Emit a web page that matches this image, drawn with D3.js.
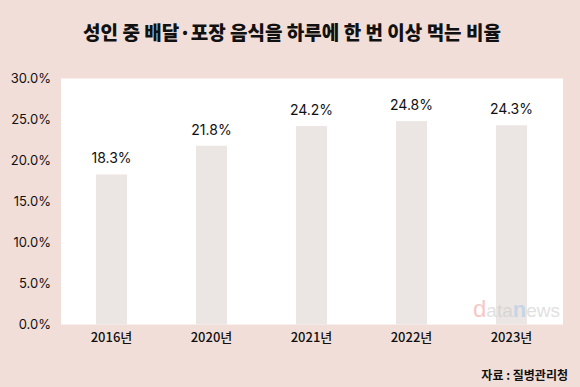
<!DOCTYPE html>
<html>
<head>
<meta charset="utf-8">
<script src="https://cdn.jsdelivr.net/npm/d3@7"></script>
<style>
  body { margin: 0; background: #f2ded8; }
  svg { display: block; }
</style>
</head>
<body>
<div id="chart"></div>
<script>
var years = ["2016년", "2020년", "2021년", "2022년", "2023년"];
var values = [18.3, 21.8, 24.2, 24.8, 24.3];
var yTicks = [0, 5, 10, 15, 20, 25, 30];

var w = 580,
    h = 387;
var font = "'Noto Sans CJK KR', 'Noto Sans', sans-serif";
var numFont = "Inter, 'Noto Sans CJK KR', sans-serif";

var svg = d3.select("#chart")
  .append("svg")
  .attr("width", w)
  .attr("height", h);

svg.append("rect")
  .attr("width", w)
  .attr("height", h)
  .attr("fill", "#f2ded8");

var x = d3.scaleBand()
  .domain(years)
  .range([61.5, 561.5])
  .paddingInner(0.69)
  .paddingOuter(0.345);

var y = d3.scaleLinear()
  .domain([0, 30])
  .range([324.5, 78.5]);

// plot background
svg.append("rect")
  .attr("x", 61)
  .attr("y", y(30))
  .attr("width", 502)
  .attr("height", y(0) - y(30))
  .attr("fill", "#ffffff");

// title
svg.append("text")
  .attr("x", 292)
  .attr("y", 40)
  .attr("text-anchor", "middle")
  .attr("font-family", font)
  .attr("font-size", "19px")
  .attr("font-weight", "900")
  .attr("fill", "#111")
  .text("성인 중 배달·포장 음식을 하루에 한 번 이상 먹는 비율");

// bars
svg.selectAll(".bar")
  .data(values)
  .enter()
  .append("rect")
  .attr("class", "bar")
  .attr("x", function(d, i) {return x(years[i]);})
  .attr("y", function(d) {return y(d);})
  .attr("width", x.bandwidth())
  .attr("height", function(d) {return y(0) - y(d);})
  .attr("fill", "#ebe6e3");

// watermark
var wm = svg.append("text")
  .attr("x", 473)
  .attr("y", 317)
  .attr("opacity", 0.55)
  .attr("font-family", "Arial, 'Liberation Sans', sans-serif")
  .attr("font-size", "19px");
wm.append("tspan").attr("fill", "#f09a9a").attr("font-size", "24px").text("d");
wm.append("tspan").attr("fill", "#c8c8c8").text("ata");
wm.append("tspan").attr("fill", "#a9c8e8").attr("font-size", "22px").attr("font-weight", "bold").text("n");
wm.append("tspan").attr("fill", "#c8c8c8").text("ews");

// value labels
svg.selectAll(".label")
  .data(values)
  .enter()
  .append("text")
  .attr("class", "label")
  .attr("x", function(d, i) {return x(years[i]) + x.bandwidth() / 2;})
  .attr("y", function(d) {return y(d) - 11;})
  .attr("text-anchor", "middle")
  .attr("font-family", numFont)
  .attr("font-size", "14px")
  .attr("fill", "#111")
  .text(function(d) {return d.toFixed(1) + "%";});

// y axis
var yAxis = svg.append("g")
  .attr("transform", "translate(51,0)")
  .call(d3.axisLeft(y).tickValues(yTicks).tickSize(0).tickPadding(0)
    .tickFormat(function(d) {return d.toFixed(1) + "%";}));
yAxis.select(".domain").remove();
yAxis.selectAll("text")
  .attr("font-family", numFont)
  .attr("font-size", "13px")
  .attr("fill", "#111");

// x axis
var xAxis = svg.append("g")
  .attr("transform", "translate(0," + y(0) + ")")
  .call(d3.axisBottom(x).tickSize(0).tickPadding(8));
xAxis.select(".domain").remove();
xAxis.selectAll("text")
  .attr("font-family", font)
  .attr("font-size", "13px")
  .attr("font-weight", "500")
  .attr("fill", "#111");

// source
svg.append("text")
  .attr("x", 568)
  .attr("y", 380)
  .attr("text-anchor", "end")
  .attr("font-family", font)
  .attr("font-size", "12px")
  .attr("font-weight", "bold")
  .attr("fill", "#111")
  .text("자료 : 질병관리청");
</script>
</body>
</html>
